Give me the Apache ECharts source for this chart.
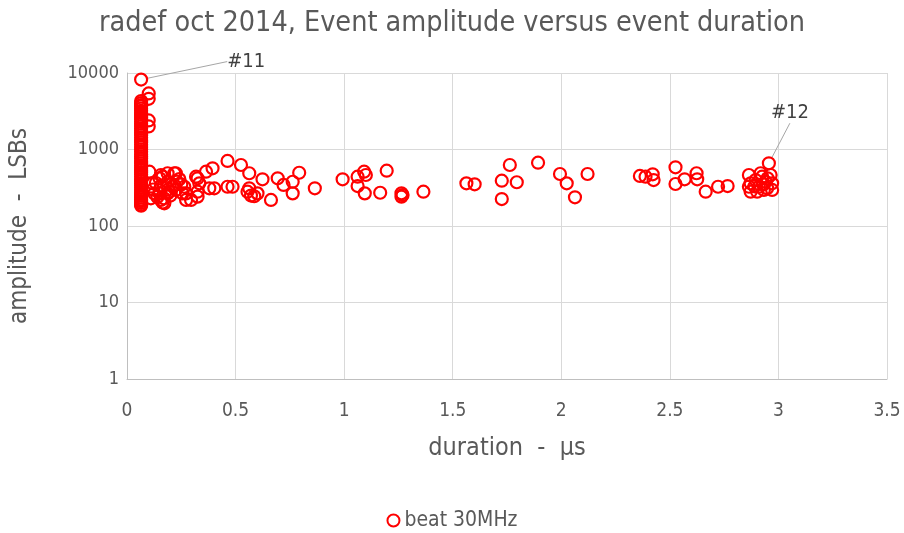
<!DOCTYPE html>
<html>
<head>
<meta charset="utf-8">
<script src="https://cdn.jsdelivr.net/npm/echarts@6/dist/echarts.min.js"></script>
<style>
  html, body { margin: 0; padding: 0; background: #fff; }
  #chart { width: 904px; height: 533px; }
</style>
</head>
<body>
<div id="chart"></div>
<script>
// Event duration (µs) vs amplitude (LSBs), radef oct 2014, beat 30MHz

// Short events: all sit at roughly the same duration
const spikeDuration = 0.065;
const spikeAmplitude = [
  4300, 4050, 3800, 3650, 3420, 3200, 3010, 2850, 2640, 2480,
  2300, 2170, 2010, 1880, 1760, 1650, 1530, 1420, 1330, 1240,
  1150, 1080, 1000, 935, 870, 812, 760, 705, 660, 615,
  575, 540, 505, 470, 440, 410, 385, 360, 338, 316,
  296, 278, 262, 248, 235, 222, 211, 200, 190, 184
];

// Remaining events
const spreadDuration = [
  0.10, 0.10, 0.10, 0.10,
  0.103, 0.118, 0.126, 0.133, 0.149, 0.156, 0.156, 0.156, 0.164, 0.164,
  0.172, 0.187, 0.187, 0.187, 0.195, 0.218, 0.218, 0.225, 0.225, 0.241,
  0.256, 0.264, 0.272, 0.272, 0.295, 0.318, 0.325, 0.325, 0.325, 0.333,
  0.364, 0.379, 0.394, 0.402, 0.463, 0.463, 0.486, 0.525, 0.555, 0.563,
  0.563, 0.571, 0.586, 0.601, 0.624, 0.663, 0.694, 0.721, 0.763, 0.763,
  0.793, 0.865, 0.993, 1.062, 1.062, 1.092, 1.100, 1.095, 1.166, 1.196,
  1.264, 1.264, 1.269, 1.365, 1.563, 1.601, 1.726, 1.726, 1.763, 1.795,
  1.893, 1.994, 2.025, 2.063, 2.121, 2.362, 2.388, 2.421, 2.425, 2.526,
  2.526, 2.568, 2.623, 2.626, 2.665, 2.722, 2.766,
  2.864, 2.872, 2.872, 2.895, 2.910, 2.925, 2.941, 2.948, 2.964, 2.971,
  2.864, 2.902, 2.918, 2.933, 2.971, 2.950, 2.930, 2.890,
  0.12, 0.14, 0.17, 0.20, 0.23, 0.15, 0.21, 0.11, 0.19, 0.25
];
const spreadAmplitude = [
  5400, 4600, 2400, 2000,
  513, 361, 267, 365, 267, 464, 332, 219, 441, 203,
  198, 489, 379, 267, 281, 340, 489, 489, 296, 410,
  267, 326, 267, 219, 219, 441, 420, 281, 242, 361,
  513, 311, 568, 311, 708, 326, 326, 627, 281, 489,
  311, 250, 245, 267, 408, 219, 420, 344, 379, 267,
  497, 311, 408, 441, 333, 513, 464, 267, 272, 528,
  267, 242, 254, 281, 361, 351, 391, 225, 627, 373,
  672, 478, 361, 237, 478, 451, 441, 474, 399, 585,
  354, 408, 489, 408, 281, 326, 333,
  464, 361, 281, 399, 326, 441, 379, 311, 464, 361,
  326, 281, 489, 296, 296, 420, 350, 330,
  300, 240, 230, 250, 380, 420, 330, 230, 300, 350
];

// Labelled events
const tagNames = ['#11', '#12'];
const tagDuration = [0.065, 2.956];
const tagAmplitude = [8200, 660];

const xTicks = { min: 0, max: 3.5, step: 0.5 };
const yTicks = { min: 1, max: 10000 };

const RED = '#ff0000';
const TEXT = '#595959';
const FONT = '"Liberation Sans Narrow", "DejaVu Sans Condensed", "Liberation Sans", sans-serif';

const points = [];
spikeAmplitude.forEach(a => points.push([spikeDuration, a]));
spreadDuration.forEach((d, i) => points.push([d, spreadAmplitude[i]]));
const tagStart = points.length;
tagNames.forEach((name, i) => points.push({
  value: [tagDuration[i], tagAmplitude[i]],
  name: name,
  label: {
    show: true,
    formatter: name,
    position: i === 0 ? 'right' : 'top'
  },
  labelLine: { show: true }
}));

// offsets placing each tag label away from its mark
const tagOffsets = [
  { dx: 74, dy: -18 },
  { dx: 21, dy: -28 }
];

const chart = echarts.init(document.getElementById('chart'), null, { renderer: 'canvas' });
chart.setOption({
  animation: false,
  backgroundColor: '#ffffff',
  textStyle: { fontFamily: FONT },
  title: {
    text: 'radef oct 2014, Event amplitude versus event duration',
    left: 'center',
    top: 4,
    textStyle: { fontFamily: FONT, fontSize: 28.5, fontWeight: 'normal', color: TEXT }
  },
  legend: {
    top: 505,
    left: 'center',
    itemWidth: 12,
    itemHeight: 12,
    itemGap: 4,
    textStyle: { fontFamily: FONT, fontSize: 21, color: TEXT },
    data: [{ name: 'beat 30MHz', icon: 'circle' }]
  },
  grid: { left: 126, right: 17, top: 73, bottom: 154, containLabel: false },
  xAxis: {
    type: 'value',
    min: xTicks.min,
    max: xTicks.max,
    interval: xTicks.step,
    name: 'duration  -  µs',
    nameLocation: 'middle',
    nameGap: 57,
    nameTextStyle: { fontFamily: FONT, fontSize: 25, color: TEXT },
    axisLine: { show: true, lineStyle: { color: '#bfbfbf', width: 1 } },
    axisTick: { show: false },
    axisLabel: {
      fontFamily: FONT, fontSize: 19, color: TEXT, margin: 23,
      formatter: v => String(v)
    },
    splitLine: { show: true, lineStyle: { color: '#d9d9d9', width: 1 } }
  },
  yAxis: {
    type: 'log',
    logBase: 10,
    min: yTicks.min,
    max: yTicks.max,
    name: 'amplitude  -  LSBs',
    nameLocation: 'middle',
    nameGap: 95,
    nameTextStyle: { fontFamily: FONT, fontSize: 24, color: TEXT },
    axisLine: { show: true, lineStyle: { color: '#bfbfbf', width: 1 } },
    axisTick: { show: false },
    axisLabel: {
      fontFamily: FONT, fontSize: 18, color: TEXT, margin: 8,
      formatter: v => String(Math.round(v))
    },
    splitLine: { show: true, lineStyle: { color: '#d9d9d9', width: 1 } }
  },
  series: [{
    name: 'beat 30MHz',
    type: 'scatter',
    symbol: 'circle',
    symbolSize: 12,
    itemStyle: { color: 'rgba(255,255,255,0)', borderColor: RED, borderWidth: 2.2, opacity: 1 },
    label: {
      show: false,
      fontFamily: FONT,
      fontSize: 20,
      color: '#404040'
    },
    labelLine: {
      show: false,
      lineStyle: { color: '#a6a6a6', width: 1 }
    },
    labelLayout: params => {
      const k = params.dataIndex - tagStart;
      return (k >= 0 && k < tagOffsets.length) ? tagOffsets[k] : {};
    },
    data: points
  }]
});
</script>
</body>
</html>
